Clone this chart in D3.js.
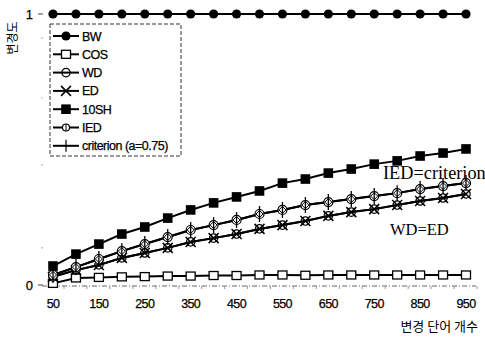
<!DOCTYPE html>
<html>
<head>
<meta charset="utf-8">
<script src="https://cdn.jsdelivr.net/npm/d3@7"></script>
<style>
  html, body { margin: 0; padding: 0; background: #fff; }
  svg { display: block; }
  text { fill: #000; }
  .sans { stroke: #000; stroke-width: 0.25px; }
</style>
</head>
<body>
<svg id="chart" width="485" height="337"></svg>
<script>
// number of changed words
const counts = [50,100,150,200,250,300,350,400,450,500,550,600,650,700,750,800,850,900,950];
const xTickLabels = [50,150,250,350,450,550,650,750,850,950];
const yTickLabels = [0, 1];

const bw     = [1,1,1,1,1,1,1,1,1,1,1,1,1,1,1,1,1,1,1];
const cos    = [0.006,0.026,0.028,0.030,0.031,0.033,0.033,0.035,0.035,0.037,0.037,0.036,0.037,0.037,0.037,0.037,0.037,0.037,0.037];
const ed     = [0.030,0.055,0.074,0.100,0.118,0.137,0.159,0.173,0.188,0.207,0.221,0.236,0.255,0.269,0.280,0.295,0.310,0.321,0.336];
const wd     = ed.slice();
const sh10   = [0.070,0.114,0.151,0.188,0.214,0.247,0.277,0.303,0.325,0.347,0.376,0.391,0.413,0.428,0.446,0.458,0.476,0.487,0.502];
const ied    = [0.037,0.066,0.096,0.125,0.151,0.177,0.203,0.221,0.240,0.262,0.277,0.295,0.306,0.317,0.328,0.339,0.354,0.365,0.376];
const crit   = ied.slice();

const legendNames = ["BW","COS","WD","ED","10SH","IED","criterion (a=0.75)"];

const SANS = "'Liberation Sans', Arial, sans-serif";
const SERIF = "'Liberation Serif', 'Times New Roman', serif";
const KR = "'Noto Sans CJK KR', sans-serif";

const svg = d3.select("#chart");
const x = d3.scaleLinear().domain([50, 950]).range([53, 466]);
const y = d3.scaleLinear().domain([0, 1]).range([285, 14]);

// faint minor tick dots on the value axis
const minor = [0.137, 0.443, 0.69, 0.911];
svg.selectAll(".minor").data(minor).enter().append("line")
  .attr("x1", 41).attr("x2", 43)
  .attr("y1", d => y(d)).attr("y2", d => y(d))
  .attr("stroke", "#bbb").attr("stroke-width", 1.2);

// value axis labels
svg.selectAll(".ylab").data(yTickLabels).enter().append("text")
  .attr("class", "sans")
  .attr("x", 33).attr("y", d => y(d) + 4.5)
  .attr("text-anchor", "end").attr("font-size", 13)
  .style("font-family", SANS).text(d => d);
svg.selectAll(".ytick").data(yTickLabels).enter().append("line")
  .attr("x1", 38).attr("x2", 43)
  .attr("y1", d => y(d)).attr("y2", d => y(d))
  .attr("stroke", "#444").attr("stroke-width", 1);

// baseline
svg.append("line")
  .attr("x1", 42).attr("x2", 476).attr("y1", y(0) + 1).attr("y2", y(0) + 1)
  .attr("stroke", "#666").attr("stroke-width", 1.2).attr("stroke-dasharray", "5,2,1,2");
svg.selectAll(".xtick").data(counts).enter().append("line")
  .attr("x1", d => x(d) + 11).attr("x2", d => x(d) + 11)
  .attr("y1", y(0) + 1).attr("y2", y(0) + 4)
  .attr("stroke", "#999").attr("stroke-width", 1);

// category labels
svg.selectAll(".xlab").data(xTickLabels).enter().append("text")
  .attr("class", "sans")
  .attr("x", d => x(d)).attr("y", 308)
  .attr("text-anchor", "middle").attr("font-size", 12.5).attr("letter-spacing", -0.6)
  .style("font-family", SANS)
  .text(d => d);

svg.append("text").attr("x", 478).attr("y", 331).attr("text-anchor", "end")
  .attr("font-size", 13).style("font-family", KR)
  .text("변경 단어 개수");

svg.append("text")
  .attr("transform", "translate(17,38) rotate(-90)")
  .attr("text-anchor", "middle").attr("font-size", 12)
  .style("font-family", KR)
  .text("변경도");

const line = d3.line().x((d, i) => x(counts[i])).y(d => y(d));

function drawLine(vals) {
  svg.append("path").datum(vals).attr("d", line)
    .attr("fill", "none").attr("stroke", "#000").attr("stroke-width", 2);
}

// marker drawers
const mk = {
  circleFilled: (g) => g.append("circle").attr("r", 4.6).attr("fill", "#000"),
  squareOpen: (g) => g.append("rect").attr("x", -4.5).attr("y", -4).attr("width", 9).attr("height", 8)
      .attr("fill", "#fff").attr("stroke", "#000").attr("stroke-width", 1.3),
  circleOpen: (g) => g.append("circle").attr("r", 4.2).attr("fill", "none").attr("stroke", "#000").attr("stroke-width", 1.2),
  cross: (g) => g.append("path").attr("d", "M-5,-5L5,5M-5,5L5,-5").attr("stroke", "#000").attr("stroke-width", 1.5),
  squareFilled: (g) => g.append("rect").attr("x", -4.8).attr("y", -4.8).attr("width", 9.6).attr("height", 9.6).attr("fill", "#000"),
  diamondOpen: (g) => {
    g.append("circle").attr("r", 4.5).attr("fill", "#fff").attr("stroke", "#000").attr("stroke-width", 1.2);
    g.append("path").attr("d", "M0,-3.5L3.5,0L0,3.5L-3.5,0Z").attr("fill", "none").attr("stroke", "#000").attr("stroke-width", 1);
  },
  plus: (g) => g.append("path").attr("d", "M0,-8V8").attr("stroke", "#000").attr("stroke-width", 1.3)
};

function drawMarkers(vals, fn) {
  vals.forEach((v, i) => {
    const g = svg.append("g").attr("transform", `translate(${x(counts[i])},${y(v)})`);
    fn(g);
  });
}

const series = [
  { vals: cos, m: mk.squareOpen },
  { vals: ed, m: mk.cross },
  { vals: wd, m: mk.circleOpen },
  { vals: ied, m: mk.diamondOpen },
  { vals: crit, m: mk.plus },
  { vals: sh10, m: mk.squareFilled },
  { vals: bw, m: mk.circleFilled }
];
series.forEach(s => drawLine(s.vals));
series.forEach(s => drawMarkers(s.vals, s.m));

// annotations
svg.append("text").attr("x", 383).attr("y", 179)
  .style("font-family", SERIF).attr("font-size", 18.3)
  .text("IED=criterion");
svg.append("text").attr("x", 390).attr("y", 235)
  .style("font-family", SERIF).attr("font-size", 16.5)
  .text("WD=ED");

// legend
const legend = svg.append("g");
legend.append("rect").attr("x", 50).attr("y", 24).attr("width", 131).attr("height", 132)
  .attr("fill", "#fff").attr("stroke", "#333").attr("stroke-width", 1).attr("stroke-dasharray", "4,2");
const legendMarkers = [mk.circleFilled, mk.squareOpen, mk.circleOpen, mk.cross, mk.squareFilled, mk.diamondOpen, mk.plus];
legendNames.forEach((name, i) => {
  const yy = 36 + i * 18.3;
  legend.append("line").attr("x1", 53).attr("x2", 79).attr("y1", yy).attr("y2", yy)
    .attr("stroke", "#000").attr("stroke-width", 2);
  const g = legend.append("g").attr("transform", `translate(66,${yy})`);
  if (i === 5) {
    g.append("circle").attr("r", 3.5).attr("fill", "#fff").attr("stroke", "#000").attr("stroke-width", 1.2);
    g.append("path").attr("d", "M0,-3.5V3.5").attr("stroke", "#000").attr("stroke-width", 1);
  } else if (i === 6) {
    g.append("path").attr("d", "M0,-6V6").attr("stroke", "#000").attr("stroke-width", 1.2);
  } else {
    legendMarkers[i](g);
  }
  legend.append("text").attr("class", "sans")
    .attr("x", 82).attr("y", yy + 4.5).attr("font-size", 12.5)
    .attr("letter-spacing", -0.5).style("font-family", SANS).text(name);
});
</script>
</body>
</html>
